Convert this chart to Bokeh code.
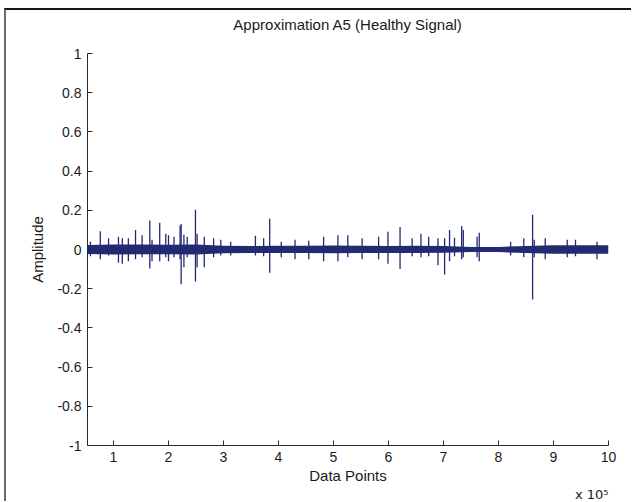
import numpy as np
from bokeh.plotting import figure
from bokeh.models import Range1d, FixedTicker, Title
from bokeh.layouts import column
from bokeh.embed import file_html
from bokeh.resources import INLINE

# ---- data (x in data points, y in amplitude) ----
band_x = [52700, 100000, 150000, 200000, 250000, 300000, 350000, 400000, 450000, 500000,
          550000, 600000, 650000, 700000, 750000, 800000, 850000, 900000, 950000, 1000000]
band_hi = [0.023, 0.025, 0.025, 0.024, 0.025, 0.019, 0.018, 0.019, 0.019, 0.021,
           0.019, 0.018, 0.019, 0.018, 0.013, 0.013, 0.018, 0.022, 0.022, 0.022]
band_lo = [-0.023, -0.025, -0.024, -0.024, -0.025, -0.019, -0.018, -0.018, -0.018, -0.019,
           -0.018, -0.018, -0.018, -0.017, -0.013, -0.013, -0.018, -0.022, -0.022, -0.022]

spike_x = [58000, 76000, 91000, 109000, 116000, 127000, 140000, 152000, 166000, 170000,
           184000, 195000, 200000, 210000, 221000, 223000, 228000, 234000, 249000, 252000,
           265000, 282000, 295000, 313000, 358000, 373000, 384000, 405000, 430000, 455000,
           482000, 508000, 526000, 552000, 582000, 599000, 621000, 643000, 659000, 673000,
           690000, 702000, 711000, 720000, 733000, 736000, 761000, 765000, 822000, 846000,
           862000, 865000, 885000, 925000, 940000, 979000]
spike_top = [0.04, 0.093, 0.057, 0.065, 0.057, 0.057, 0.10, 0.073, 0.148, 0.05,
             0.137, 0.08, 0.073, 0.065, 0.123, 0.13, 0.075, 0.065, 0.203, 0.08,
             0.065, 0.057, 0.05, 0.04, 0.07, 0.057, 0.157, 0.04, 0.05, 0.045,
             0.065, 0.073, 0.073, 0.057, 0.065, 0.09, 0.115, 0.057, 0.08, 0.065,
             0.057, 0.057, 0.10, 0.06, 0.12, 0.10, 0.065, 0.085, 0.04, 0.057,
             0.177, 0.05, 0.057, 0.05, 0.05, 0.04]
spike_bot = [-0.035, -0.05, -0.03, -0.068, -0.073, -0.06, -0.05, -0.04, -0.097, -0.06,
             -0.06, -0.04, -0.06, -0.04, -0.05, -0.177, -0.09, -0.04, -0.163, -0.09,
             -0.09, -0.04, -0.03, -0.03, -0.03, -0.035, -0.118, -0.04, -0.05, -0.05,
             -0.06, -0.06, -0.04, -0.05, -0.05, -0.073, -0.10, -0.035, -0.04, -0.035,
             -0.08, -0.127, -0.06, -0.035, -0.05, -0.04, -0.04, -0.06, -0.03, -0.04,
             -0.255, -0.04, -0.05, -0.04, -0.035, -0.05]

x_ticks = [100000, 200000, 300000, 400000, 500000, 600000, 700000, 800000, 900000, 1000000]
x_tick_labels = ["1", "2", "3", "4", "5", "6", "7", "8", "9", "10"]
y_ticks = [-1.0, -0.8, -0.6, -0.4, -0.2, 0.0, 0.2, 0.4, 0.6, 0.8, 1.0]
y_tick_labels = ["-1", "-0.8", "-0.6", "-0.4", "-0.2", "0", "0.2", "0.4", "0.6", "0.8", "1"]

FONT = "Liberation Sans"
LINE = "#242a72"
AX = "#2a2a2a"
TXT = "#1a1a1a"

p = figure(width=625, height=491, output_backend="svg", toolbar_location=None,
           x_range=Range1d(52700, 1000000), y_range=Range1d(-1, 1),
           min_border_left=81, min_border_right=23, min_border_top=43, min_border_bottom=10,
           title="Approximation A5 (Healthy Signal)")

p.title.align = "center"
p.title.text_font = FONT
p.title.text_font_size = "15px"
p.title.text_font_style = "normal"
p.title.text_color = TXT
p.title.standoff = 0

# empty spacer between the frame and the main title
p.add_layout(Title(text=" ", text_font_size="17px", standoff=0), "above")

p.varea(x=band_x, y1=band_lo, y2=band_hi, fill_color=LINE)
p.segment(x0=spike_x, y0=spike_bot, x1=spike_x, y1=spike_top, line_color=LINE, line_width=1.3)

p.grid.visible = False
p.outline_line_color = None
p.background_fill_color = "white"
p.border_fill_color = "white"

for ax in (p.xaxis[0], p.yaxis[0]):
    ax.axis_line_color = AX
    ax.major_tick_line_color = AX
    ax.major_tick_in = 5
    ax.major_tick_out = 0
    ax.minor_tick_line_color = None
    ax.major_label_text_font = FONT
    ax.major_label_text_font_size = "14px"
    ax.major_label_text_color = TXT
    ax.axis_label_text_font = FONT
    ax.axis_label_text_font_size = "15px"
    ax.axis_label_text_font_style = "normal"
    ax.axis_label_text_color = TXT

p.xaxis.ticker = FixedTicker(ticks=x_ticks)
p.xaxis.major_label_overrides = dict(zip(x_ticks, x_tick_labels))
p.xaxis.major_label_standoff = 6

p.yaxis.ticker = FixedTicker(ticks=y_ticks)
p.yaxis.major_label_overrides = dict(zip(y_ticks, y_tick_labels))
p.yaxis.major_label_standoff = 6
p.yaxis.axis_label = "Amplitude"
p.yaxis.axis_label_standoff = 8

p.add_layout(Title(text="Data Points", align="center", text_font=FONT, text_font_size="15px",
                   text_font_style="normal", text_color=TXT, standoff=1), "below")
p.add_layout(Title(text="x 10\u2075", align="right", text_font="DejaVu Sans", text_font_size="13px",
                   text_font_style="normal", text_color=TXT, standoff=0), "below")

layout = column(p, margin=(8, 0, 0, 4),
                styles={"border-top": "2px solid #151515", "border-left": "2px solid #6a6a6a"})

open("out.html", "w").write(file_html(layout, INLINE))
